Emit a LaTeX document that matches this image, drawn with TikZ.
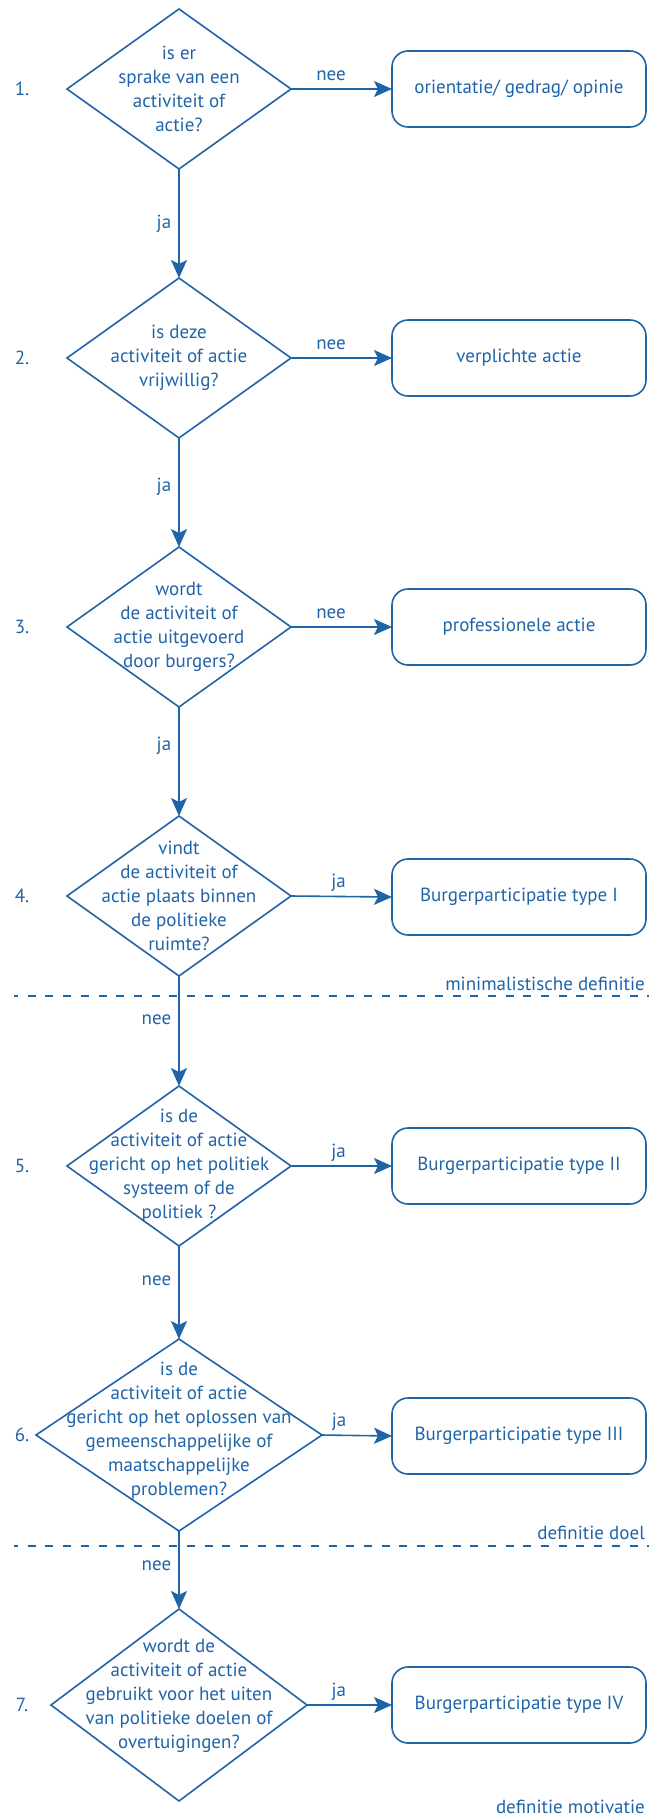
\documentclass[tikz,border=0pt]{standalone}
\usepackage{fontspec}
\setmainfont{PT Sans}
\usetikzlibrary{shapes.geometric,arrows.meta}
\definecolor{flow}{RGB}{32,100,168}
\begin{document}
\begin{tikzpicture}[x=1pt,y=-1pt,
  txt/.style={text=flow,font=\fontsize{19}{24}\selectfont,inner sep=0pt},
  question/.style={diamond,draw=flow,line width=1.6pt,inner sep=0pt,outer sep=0pt},
  qtext/.style={txt,align=center},
  outcome/.style={txt,draw=flow,line width=1.6pt,rounded corners=16pt,
    minimum width=254pt,minimum height=76pt,outer sep=0pt},
  flowarrow/.style={draw=flow,line width=1.6pt,
    -{Stealth[length=18pt,width=16pt,inset=4pt]}},
  vlabel/.style={txt,anchor=east,xshift=-7pt},
  hlabel/.style={txt,anchor=base east,yshift=9pt},
  divider/.style={draw=flow,line width=1.6pt,dash pattern=on 8pt off 9.7pt,dash phase=4pt},
  steplabel/.style={txt},
  section/.style={txt,anchor=base east}
]
\useasboundingbox (0,0) rectangle (649,1818);

% decision diamonds
\node[question,minimum width=224pt,minimum height=160pt] (d1) at (179,89) {};
\node[question,minimum width=224pt,minimum height=160pt] (d2) at (179,358) {};
\node[question,minimum width=224pt,minimum height=160pt] (d3) at (179,627) {};
\node[question,minimum width=224pt,minimum height=160pt] (d4) at (179,896) {};
\node[question,minimum width=224pt,minimum height=160pt] (d5) at (179,1166) {};
\node[question,minimum width=286pt,minimum height=192pt] (d6) at (179,1435) {};
\node[question,minimum width=256pt,minimum height=192pt] (d7) at (179,1705) {};

% questions
\node[qtext] (q1) at (179,89) {is er\\sprake van een\\activiteit of\\actie?};
\node[qtext] (q2) at (179,358) {is deze\\activiteit of actie\\vrijwillig?};
\node[qtext] (q3) at (179,627) {wordt\\de activiteit of\\actie uitgevoerd\\door burgers?};
\node[qtext] (q4) at (179,896) {vindt\\de activiteit of\\actie plaats binnen\\de politieke\\ruimte?};
\node[qtext] (q5) at (179,1166) {is de\\activiteit of actie\\gericht op het politiek\\systeem of de\\politiek ?};
\node[qtext] (q6) at (179,1431) {is de\\activiteit of actie\\gericht op het oplossen van\\gemeenschappelijke of\\maatschappelijke\\problemen?};
\node[qtext] (q7) at (179,1696) {wordt de\\activiteit of actie\\gebruikt voor het uiten\\van politieke doelen of\\overtuigingen?};

% step numbers
\node[steplabel] (n1) at (22,89) {1.};
\node[steplabel] (n2) at (22,358) {2.};
\node[steplabel] (n3) at (22,627) {3.};
\node[steplabel] (n4) at (22,896) {4.};
\node[steplabel] (n5) at (22,1166) {5.};
\node[steplabel] (n6) at (22,1435) {6.};
\node[steplabel] (n7) at (22,1705) {7.};

% outcomes
\node[outcome] (o1) at (519,89) {orientatie/ gedrag/ opinie};
\node[outcome] (o2) at (519,358) {verplichte actie};
\node[outcome] (o3) at (519,627) {professionele actie};
\node[outcome] (o4) at (519,897) {Burgerparticipatie type I};
\node[outcome] (o5) at (519,1166) {Burgerparticipatie type II};
\node[outcome] (o6) at (519,1436) {Burgerparticipatie type III};
\node[outcome] (o7) at (519,1705) {Burgerparticipatie type IV};

% main flow
\draw[flowarrow] (d1.south) -- node[vlabel,pos=0.5] {ja} (d2.north);
\draw[flowarrow] (d2.south) -- node[vlabel,pos=0.45] {ja} (d3.north);
\draw[flowarrow] (d3.south) -- node[vlabel,pos=0.36] {ja} (d4.north);
\draw[flowarrow] (d4.south) -- node[vlabel,pos=0.4] {nee} (d5.north);
\draw[flowarrow] (d5.south) -- node[vlabel,pos=0.37] {nee} (d6.north);
\draw[flowarrow] (d6.south) -- node[vlabel,pos=0.44] {nee} (d7.north);

% exits to the outcomes
\draw[flowarrow] (d1.east) -- node[hlabel,pos=0.55] {nee} (o1.west);
\draw[flowarrow] (d2.east) -- node[hlabel,pos=0.55] {nee} (o2.west);
\draw[flowarrow] (d3.east) -- node[hlabel,pos=0.55] {nee} (o3.west);
\draw[flowarrow] (d4.east) -- node[hlabel,pos=0.55] {ja} (o4.west);
\draw[flowarrow] (d5.east) -- node[hlabel,pos=0.55] {ja} (o5.west);
\draw[flowarrow] (d6.east) -- node[hlabel,pos=0.36] {ja} (o6.west);
\draw[flowarrow] (d7.east) -- node[hlabel,pos=0.47] {ja} (o7.west);

% definition boundaries
\coordinate (m1) at (14,996);
\coordinate (m2) at (649,996);
\coordinate (g1) at (14,1546);
\coordinate (g2) at (649,1546);
\draw[divider] (m1) -- (m2);
\draw[divider] (g1) -- (g2);
\node[section] (s1) at (645,990) {minimalistische definitie};
\node[section] (s2) at (645,1539) {definitie doel};
\node[section] (s3) at (645,1813) {definitie motivatie};
\end{tikzpicture}
\end{document}
